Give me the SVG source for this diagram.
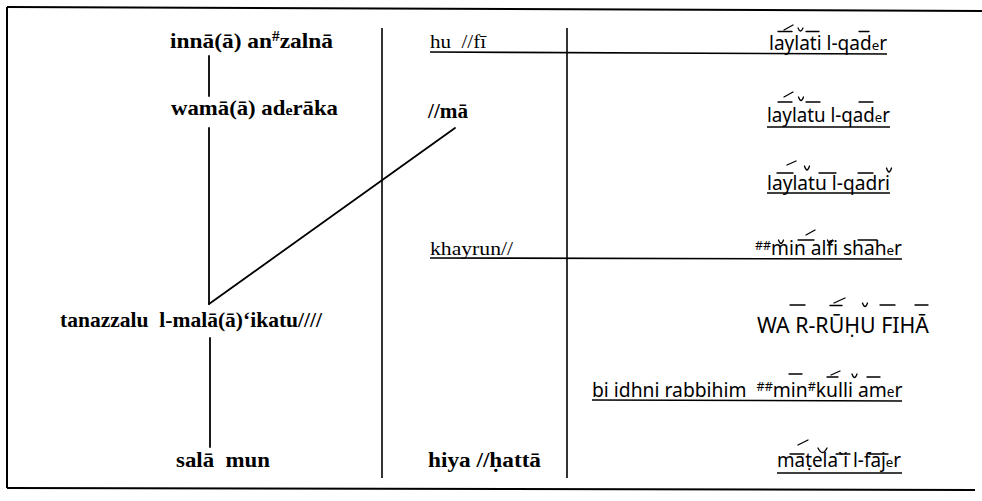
<svg xmlns="http://www.w3.org/2000/svg" width="982" height="501" viewBox="0 0 982 501">
  <style>
    .frame { stroke: #000; stroke-width: 2; fill: none; }
    .rule { stroke: #000; stroke-width: 1.6; fill: none; }
    .link { stroke: #000; stroke-width: 1.8; fill: none; stroke-linecap: round; }
    .mark { stroke: #000; stroke-width: 1.3; fill: none; stroke-linecap: round; }
    .lb { font-family: "Liberation Serif", serif; font-weight: bold; font-size: 21px; fill: #000; }
    .mr { font-family: "Liberation Serif", serif; font-size: 19px; fill: #000; }
    .mb { font-family: "Liberation Serif", serif; font-weight: bold; font-size: 20px; fill: #000; }
    .rs { font-family: "Noto Sans", "Liberation Sans", sans-serif; font-size: 19px; fill: #000; }
    .rl { font-family: "Noto Sans", "Liberation Sans", sans-serif; font-size: 21px; fill: #000; }
    .rm { font-family: "Noto Sans", "Liberation Sans", sans-serif; font-size: 19.3px; fill: #000; }
    .sm { font-size: 70%; }
    .sup { font-size: 65%; }
  </style>
  <rect width="982" height="501" fill="#fff"/>

  <!-- frame -->
  <g id="frame">
    <line class="frame" x1="7" y1="7" x2="982" y2="11"/>
    <line class="frame" x1="7" y1="7" x2="7" y2="488"/>
    <line class="frame" x1="7" y1="488" x2="975" y2="490"/>
  </g>

  <!-- column dividers, tree links and rule lines -->
  <g id="connectors">
    <line class="rule" x1="382" y1="28" x2="382" y2="478"/>
    <line class="rule" x1="567" y1="28" x2="567" y2="478"/>
    <line class="link" x1="209" y1="56" x2="209" y2="96"/>
    <line class="link" x1="209" y1="128" x2="209" y2="304"/>
    <line class="link" x1="209" y1="304" x2="455" y2="128"/>
    <line class="link" x1="210" y1="338" x2="210" y2="447"/>
    <line class="rule" x1="430" y1="52" x2="887" y2="54"/>
    <line class="rule" x1="430" y1="258" x2="902" y2="259"/>
    <line class="rule" x1="767" y1="127" x2="890" y2="127"/>
    <line class="rule" x1="767" y1="193" x2="890" y2="193"/>
    <line class="rule" x1="592" y1="400" x2="902" y2="401"/>
    <line class="rule" x1="777" y1="473" x2="902" y2="473"/>
  </g>

  <!-- left column -->
  <g id="n-inna"><text class="lb" x="170" y="48" textLength="163" lengthAdjust="spacingAndGlyphs">innā(ā) an<tspan class="sup" dy="-7">#</tspan><tspan dy="7">zalnā</tspan></text></g>
  <g id="n-wama"><text class="lb" x="171" y="115" textLength="167" lengthAdjust="spacingAndGlyphs">wamā(ā) ad<tspan class="sm">e</tspan>rāka</text></g>
  <g id="n-tanazzalu"><text class="lb" x="60" y="327" textLength="262" lengthAdjust="spacingAndGlyphs">tanazzalu&#160; l-malā(ā)‘ikatu////</text></g>
  <g id="n-salam"><text class="lb" x="176" y="467" textLength="94" lengthAdjust="spacingAndGlyphs">salā&#160; mun</text></g>

  <!-- middle column -->
  <g id="n-hufi"><text class="mr" x="430" y="48" textLength="56" lengthAdjust="spacingAndGlyphs">hu&#160; //fī</text></g>
  <g id="n-ma"><text class="mb" x="428" y="118" textLength="40" lengthAdjust="spacingAndGlyphs">//mā</text></g>
  <g id="n-khayrun"><text class="mr" x="430" y="255" textLength="83" lengthAdjust="spacingAndGlyphs">khayrun//</text></g>
  <g id="n-hiya"><text class="mb" x="428" y="467" textLength="113" lengthAdjust="spacingAndGlyphs">hiya //ḥattā</text></g>

  <!-- right column -->
  <g id="n-laylati">
    <text class="rs" x="769" y="50" textLength="118" lengthAdjust="spacingAndGlyphs">laylati l-qad<tspan class="sm">e</tspan>r</text>
    <line class="mark" x1="784" y1="30" x2="793" y2="25"/>
    <line class="mark" x1="778" y1="31.5" x2="792" y2="31.5"/>
    <path class="mark" d="M798,28 Q800.5,34 803,28"/>
    <line class="mark" x1="806" y1="31.5" x2="819" y2="31.5"/>
    <line class="mark" x1="859" y1="31.5" x2="869" y2="31.5"/>
  </g>
  <g id="n-laylatu1">
    <text class="rs" x="767" y="122" textLength="123" lengthAdjust="spacingAndGlyphs">laylatu l-qad<tspan class="sm">e</tspan>r</text>
    <line class="mark" x1="784" y1="97" x2="793" y2="92"/>
    <line class="mark" x1="778" y1="102" x2="792" y2="102"/>
    <path class="mark" d="M798.5,97 Q801,104 803.5,97"/>
    <line class="mark" x1="806" y1="102" x2="820" y2="102"/>
    <line class="mark" x1="859" y1="102" x2="873" y2="102"/>
  </g>
  <g id="n-laylatu2">
    <text class="rs" x="767" y="190" textLength="123" lengthAdjust="spacingAndGlyphs">laylatu l-qadri</text>
    <line class="mark" x1="787" y1="165" x2="796" y2="161"/>
    <line class="mark" x1="777" y1="173" x2="793" y2="173"/>
    <path class="mark" d="M804.5,166 Q807,174 809.5,166"/>
    <line class="mark" x1="819" y1="173" x2="836" y2="173"/>
    <line class="mark" x1="858" y1="173" x2="873" y2="173"/>
    <path class="mark" d="M886.5,168 Q889,176 891.5,168"/>
  </g>
  <g id="n-minalfi">
    <text class="rs" x="755" y="255" textLength="147" lengthAdjust="spacingAndGlyphs"><tspan class="sup" dy="-5">##</tspan><tspan dy="5">min alfi shah</tspan><tspan class="sm">e</tspan>r</text>
    <path class="mark" d="M778.5,240 Q781,247 783.5,240"/>
    <line class="mark" x1="806" y1="235" x2="815" y2="230"/>
    <line class="mark" x1="798" y1="240" x2="814" y2="240"/>
    <path class="mark" d="M827.5,240 Q830,247 832.5,240"/>
    <line class="mark" x1="858" y1="240" x2="877" y2="240"/>
  </g>
  <g id="n-waruhu">
    <text class="rl" x="757" y="333" textLength="172" lengthAdjust="spacingAndGlyphs">WA R-RŪḤU FIHĀ</text>
    <line class="mark" x1="790" y1="305" x2="805" y2="305"/>
    <line class="mark" x1="834" y1="303" x2="845" y2="298"/>
    <line class="mark" x1="830" y1="305.5" x2="842" y2="305.5"/>
    <path class="mark" d="M862.5,303 Q865,310 867.5,303"/>
    <line class="mark" x1="880" y1="305" x2="895" y2="305"/>
    <line class="mark" x1="915" y1="305" x2="928" y2="305"/>
  </g>
  <g id="n-biidhni">
    <text class="rm" x="592" y="397">bi idhni rabbihim&#160; <tspan class="sup" baseline-shift="6">##</tspan>min<tspan class="sup" baseline-shift="6">#</tspan>kulli am<tspan class="sm">e</tspan>r</text>
    <line class="mark" x1="789" y1="374" x2="802" y2="374"/>
    <line class="mark" x1="831" y1="375" x2="840" y2="371"/>
    <line class="mark" x1="827" y1="377" x2="838" y2="377"/>
    <path class="mark" d="M852,374 Q854.5,381 857,374"/>
    <line class="mark" x1="867" y1="377" x2="880" y2="377"/>
  </g>
  <g id="n-matela">
    <text class="rs" x="777" y="467" textLength="124" lengthAdjust="spacingAndGlyphs">maṭela`i l-faj<tspan class="sm">e</tspan>r</text>
    <line class="mark" x1="798" y1="445" x2="808" y2="440"/>
    <line class="mark" x1="790" y1="454" x2="804" y2="454"/>
    <path class="mark" d="M818,448 Q822.5,457 827,448"/>
    <line class="mark" x1="836" y1="454" x2="850" y2="454"/>
    <line class="mark" x1="869" y1="454" x2="888" y2="454"/>
  </g>
</svg>
